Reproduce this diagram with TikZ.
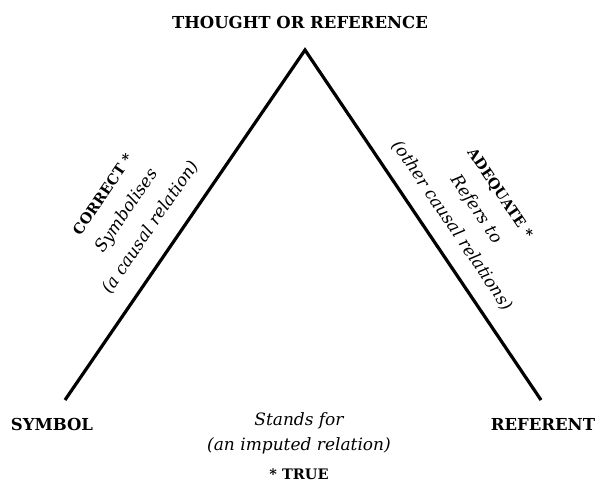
\documentclass[tikz,border=0pt]{standalone}
\usepackage{fontspec}
\setmainfont{DejaVu Serif}
\usetikzlibrary{calc}
\tikzset{corner/.style = {font=\fontsize{16.5}{19}\selectfont\bfseries},
         relation/.style = {align=center, font=\fontsize{17}{29}\selectfont\itshape},
         leg/.style = {line width=3.2pt, line join=miter}}
\newcommand{\qualify}[1]{{\upshape\bfseries\fontsize{14.5}{16}\selectfont #1}}

\begin{document}
\begin{tikzpicture}[x=1pt, y=1pt]
    \useasboundingbox (0, 0) rectangle (597, -482);
    \coordinate (apex) at (305, -50);
    \coordinate (symend) at (65, -400);
    \coordinate (refend) at (541, -400);
    \draw [leg] (symend) -- (apex) -- (refend);
    \node [corner] (thought) at (300, -22) {THOUGHT OR REFERENCE};
    \node [corner] (symbol) at (52, -424) {SYMBOL};
    \node [corner] (referent) at (543, -424) {REFERENT};
    \node [relation, rotate=55.6] (symbolises) at ($(symend)!0.45!(apex)!55pt!90:(apex)$)
      {\qualify{CORRECT *}\\ Symbolises\\ (a causal relation)};
    \node [relation, rotate=-56] (refersto) at ($(apex)!0.54!(refend)!52pt!90:(refend)$)
      {\qualify{ADEQUATE *}\\ Refers to\\ (other causal relations)};
    \node [relation] (standsfor) at (299, -446)
      {Stands for\\[-4pt] (an imputed relation)\\ \qualify{* TRUE}};
  \end{tikzpicture}
\end{document}
